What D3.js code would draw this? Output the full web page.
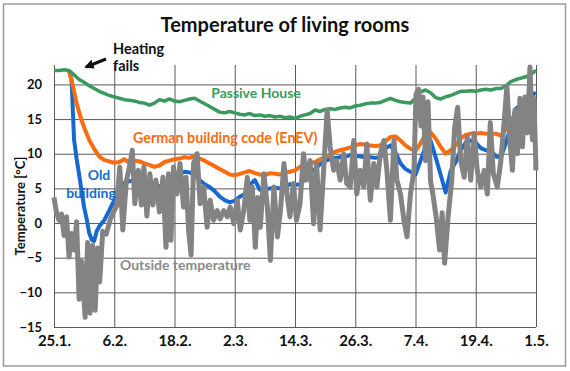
<!DOCTYPE html>
<html>
<head>
<meta charset="utf-8">
<script src="https://cdn.jsdelivr.net/npm/d3@7/dist/d3.min.js"></script>
<style>
body { margin: 0; background: #fff; }
svg text { font-family: Lato, "Liberation Sans", Arial, sans-serif; font-weight: bold; }
</style>
</head>
<body>
<div id="chart"></div>
<script>
// date labels, one every 12 days starting at 25.1.
const dateLabels = ["25.1.", "6.2.", "18.2.", "2.3.", "14.3.", "26.3.", "7.4.", "19.4.", "1.5."];
const dateTicks = [0, 12, 24, 36, 48, 60, 72, 84, 96];   // days since 25.1.
const tempTicks = [-15, -10, -5, 0, 5, 10, 15, 20];

// Passive House, daily from 25.1.
const passiveTemp = [22.0, 22.0, 22.1, 22.0, 21.4, 20.7, 20.3, 19.8, 19.4, 19.0,
    18.7, 18.4, 18.2, 18.0, 17.8, 17.7, 17.6, 17.4, 17.3, 17.0,
    17.3, 17.8, 17.6, 17.9, 17.6, 17.5, 17.7, 17.9, 18.0, 17.6,
    17.2, 16.8, 16.4, 16.0, 15.9, 16.1, 15.9, 15.7, 15.6, 15.8,
    15.5, 15.6, 15.4, 15.5, 15.3, 15.4, 15.2, 15.3, 15.1, 15.4,
    15.6, 15.8, 16.3, 16.1, 16.4, 16.5, 16.4, 16.6, 16.7, 16.6,
    16.9, 17.0, 17.2, 17.3, 17.3, 17.4, 17.7, 18.0, 17.7, 17.5,
    17.4, 17.3, 18.0, 18.9, 19.2, 18.8, 18.1, 17.9, 18.2, 18.4,
    18.7, 19.0, 19.0, 19.1, 19.0, 19.2, 19.3, 19.2, 19.4, 19.4,
    19.8, 20.4, 20.7, 20.9, 21.1, 21.5, 22.0];

// German building code (EnEV)
const enevDays = [3, 3.5, 4, 4.5, 5, 5.5, 6].concat(d3.range(7, 97));
const enevTemp = [22.0, 20.6, 19.0, 17.3, 16.0, 14.8, 13.8,
    12.0, 10.7, 9.6, 9.1, 8.9, 8.7, 8.8, 9.2, 8.7, 9.0,
    8.9, 8.6, 8.4, 8.1, 8.3, 8.8, 9.0, 9.2, 9.3, 9.5,
    9.4, 9.7, 9.3, 9.0, 8.6, 8.2, 7.8, 7.4, 7.0, 6.9,
    7.1, 7.3, 7.5, 7.2, 7.0, 6.9, 7.2, 7.1, 7.0, 7.3,
    7.4, 7.6, 8.1, 8.4, 8.6, 8.8, 9.2, 9.5, 9.9, 10.3,
    10.5, 10.7, 10.9, 11.2, 11.4, 11.3, 11.2, 11.1, 11.2, 11.8,
    12.4, 12.5, 11.9, 11.2, 10.7, 10.4, 11.5, 12.8, 13.1, 12.2,
    11.0, 10.0, 10.5, 11.2, 12.2, 12.7, 12.9, 12.9, 13.0, 12.9,
    12.8, 12.9, 12.6, 13.5, 14.8, 15.8, 16.5, 17.2, 17.6, 17.8];

// Old building
const oldDays = [3, 3.5, 4, 4.5, 5, 5.5, 6, 6.5, 7, 7.5, 8, 8.5, 9].concat(d3.range(10, 97));
const oldTemp = [22.0, 20.6, 12.0, 9.3, 7.0, 4.6, 2.3, 0.6, -1.4, -2.4, -2.6, -1.2, -0.5,
    0.4, 1.8, 3.3, 5.0, 5.8, 6.0, 6.2, 6.0, 6.4, 6.0,
    5.6, 5.3, 5.2, 5.7, 6.3, 7.0, 7.4, 7.3, 7.0, 6.2,
    5.6, 5.2, 4.6, 3.8, 3.3, 3.0, 3.2, 3.8, 4.2, 5.5,
    6.2, 4.8, 4.8, 5.0, 5.1, 5.0, 5.2, 5.6, 5.5, 5.6,
    6.3, 7.2, 7.8, 8.5, 9.0, 9.2, 9.4, 9.5, 9.6, 9.8,
    9.7, 9.6, 9.5, 9.5, 9.4, 9.5, 10.8, 11.2, 10.2, 8.6,
    7.8, 7.4, 7.0, 9.0, 11.0, 11.9, 9.5, 7.0, 4.4, 7.5,
    8.8, 10.5, 11.6, 11.9, 11.6, 10.8, 10.5, 10.5, 9.6, 9.5,
    11.5, 14.0, 16.5, 17.0, 17.6, 18.4, 18.8];

// Outside temperature (day/night swings)
const outsideDays = [0, 0.5, 1, 1.5, 2, 2.5, 3, 3.5, 4, 4.5,
    5, 5.5, 6.2, 6.7, 7.2, 7.7, 8.2, 8.7, 9.1, 9.7,
    10.4, 11.2, 12, 12.5, 13.1, 13.7, 14.4, 15, 15.6, 16.1,
    16.8, 17.4, 17.9, 18.5, 19.1, 19.7, 20.3, 21, 21.7, 22.3,
    22.8, 23.3, 23.8, 24.5, 25.1, 25.8, 26.3, 26.8, 27.3, 27.8,
    28.5, 29.1, 29.8, 30.5, 31.1, 31.8, 32.5, 33.1, 33.8, 34.5,
    35.1, 35.8, 36.5, 37.1, 37.8, 38.5, 39, 39.5, 40.1, 40.6,
    41.1, 41.8, 42.5, 43.1, 43.8, 44.5, 45.1, 45.8, 46.4, 47,
    47.7, 48.3, 49, 49.7, 50.3, 51, 51.7, 52.3, 53, 53.7,
    54.4, 55, 55.7, 56.3, 57, 57.7, 58.3, 59, 59.7, 60.3,
    61, 61.7, 62.3, 63, 63.7, 64.3, 65, 65.7, 66.3, 67,
    67.7, 68.3, 69, 69.7, 70.3, 71, 71.7, 72.1, 72.6, 73.1,
    73.5, 74, 74.5, 75, 75.5, 76.1, 76.8, 77.3, 77.8, 78.5,
    79.2, 79.8, 80.4, 81, 81.7, 82.3, 83, 83.7, 84.3, 85,
    85.7, 86.3, 86.9, 87.5, 88.3, 89, 89.7, 90.2, 90.8, 91.3,
    91.8, 92.3, 92.8, 93.3, 93.8, 94.3, 94.8, 95.3, 95.6, 96];
const outsideTemp = [3.7, 1.5, 0.4, 1.3, -1.8, 0.9, -4.9, -1.5, -3.9, 0.2,
    -11.0, -5.5, -13.6, -2.8, -13.0, -3.2, -12.6, -3.6, -8.5, -1.2,
    -1.6, 0.5, 1.8, 2.5, 8.1, -1.0, 6.0, 8.0, 10.5, 2.8,
    7.6, 2.6, 8.1, 1.0, 7.1, 2.6, 6.2, 1.6, 6.6, -3.5,
    7.1, -2.5, 8.1, 4.2, 8.6, 2.3, 6.6, -1.0, -4.6, 8.6,
    10.0, 2.8, 5.2, -0.6, 3.3, 0.4, 1.8, 0.6, 1.8, 0.9,
    2.3, -0.1, 3.3, -1.0, 1.8, 6.6, 0.4, 5.2, -3.5, 3.7,
    -0.6, 7.1, 2.3, -5.4, 5.2, -2.0, 1.8, 8.6, 4.2, 0.9,
    5.7, 0.4, 2.8, 10.0, 6.2, 9.0, -0.1, 8.6, -1.0, 7.6,
    16.3, 11.0, 7.6, 9.0, 6.2, 10.0, 5.7, 5.2, 11.9, 4.2,
    7.6, 5.2, 11.4, 3.3, 8.6, 5.2, 10.0, 11.9, 7.6, 0.4,
    11.9, 6.2, 4.2, 0.4, -2.0, 4.2, 7.6, 18.6, 19.3, 14.0,
    18.2, 9.0, 17.5, 6.0, 4.0, 0.9, -3.9, 1.5, -5.8, 1.0,
    6.0, 13.8, 16.7, 9.0, 6.6, 12.4, 6.2, 12.9, 7.6, 5.2,
    7.6, 4.2, 14.5, 7.1, 5.2, 9.0, 15.0, 19.7, 11.9, 7.6,
    16.3, 10.0, 18.0, 11.0, 18.2, 13.0, 22.5, 12.0, 18.0, 7.6];

const width = 570, height = 371;
const margin = {top: 65, right: 34, bottom: 44, left: 54};

const svg = d3.select("#chart")
    .append("svg")
    .attr("width", width)
    .attr("height", height);

// outer frame
svg.append("rect")
    .attr("x", 3.5).attr("y", 4)
    .attr("width", 562).attr("height", 362)
    .attr("fill", "none")
    .attr("stroke", "#9a9a9a")
    .attr("stroke-width", 1.5);

const x = d3.scaleLinear()
    .domain([0, 96])
    .range([margin.left, width - margin.right]);

const y = d3.scaleLinear()
    .domain([-15, 22.8])
    .range([height - margin.bottom, margin.top]);

// horizontal grid + y labels
const yAxis = svg.append("g")
    .attr("transform", "translate(" + margin.left + ",0)")
    .call(d3.axisLeft(y).tickValues(tempTicks).tickSize(-(x(96) - x(0))).tickPadding(12));
yAxis.select(".domain").remove();
yAxis.selectAll("line").attr("stroke", "#5a5a5a").attr("stroke-width", 1);
yAxis.selectAll("text").attr("font-size", 13).attr("fill", "#111");

// vertical grid + date labels
const xAxis = svg.append("g")
    .attr("transform", "translate(0," + y(-15) + ")")
    .call(d3.axisBottom(x).tickValues(dateTicks)
        .tickFormat((d, i) => dateLabels[i])
        .tickSize(-(y(-15) - y(22.8))).tickPadding(8));
xAxis.select(".domain").remove();
xAxis.selectAll("line").attr("stroke", "#5a5a5a").attr("stroke-width", 1);
xAxis.selectAll("text").attr("font-size", 15).attr("fill", "#111");

function drawLine(days, temps, color, w) {
    const pts = days.map((d, i) => [d, temps[i]]);
    svg.append("path")
        .datum(pts)
        .attr("fill", "none")
        .attr("stroke", color)
        .attr("stroke-width", w)
        .attr("stroke-linejoin", "round")
        .attr("d", d3.line().x(p => x(p[0])).y(p => y(p[1])));
}

drawLine(oldDays, oldTemp, "#1769cf", 4);
drawLine(enevDays, enevTemp, "#fa6c0f", 4);
drawLine(d3.range(passiveTemp.length), passiveTemp, "#3a9a5e", 3.5);
drawLine(outsideDays, outsideTemp, "#838383", 5);

// title
svg.append("text")
    .attr("x", 285).attr("y", 32)
    .attr("text-anchor", "middle")
    .attr("font-size", 20)
    .attr("fill", "#111")
    .text("Temperature of living rooms");

// y axis title
svg.append("text")
    .attr("transform", "translate(25,206) rotate(-90)")
    .attr("text-anchor", "middle")
    .attr("font-size", 13)
    .attr("fill", "#111")
    .text("Temperature [°C]");

// series labels
svg.append("text").attr("x", 256).attr("y", 98).attr("text-anchor", "middle")
    .attr("font-size", 14).attr("fill", "#3a9a5e").text("Passive House");
svg.append("text").attr("x", 133).attr("y", 143)
    .attr("font-size", 14.3).attr("fill", "#fa6c0f").text("German building code (EnEV)");
svg.append("text").attr("x", 99).attr("y", 180).attr("text-anchor", "middle")
    .attr("font-size", 14).attr("fill", "#1769cf").text("Old");
svg.append("text").attr("x", 91).attr("y", 198).attr("text-anchor", "middle")
    .attr("font-size", 14).attr("fill", "#1769cf").text("building");
svg.append("text").attr("x", 120).attr("y", 270)
    .attr("font-size", 14).attr("fill", "#8a8a8a").text("Outside temperature");

// annotation
svg.append("text").attr("x", 113).attr("y", 54)
    .attr("font-size", 14.5).attr("fill", "#111").text("Heating");
svg.append("text").attr("x", 113).attr("y", 71)
    .attr("font-size", 14.5).attr("fill", "#111").text("fails");

svg.append("defs").append("marker")
    .attr("id", "head")
    .attr("viewBox", "0 0 10 10")
    .attr("refX", 8).attr("refY", 5)
    .attr("markerWidth", 3.2).attr("markerHeight", 3.2)
    .attr("orient", "auto")
    .append("path")
    .attr("d", "M0,0 L10,5 L0,10 Z")
    .attr("fill", "#111");
svg.append("line")
    .attr("x1", 106).attr("y1", 59)
    .attr("x2", 86).attr("y2", 67)
    .attr("stroke", "#111")
    .attr("stroke-width", 3)
    .attr("marker-end", "url(#head)");
</script>
</body>
</html>
